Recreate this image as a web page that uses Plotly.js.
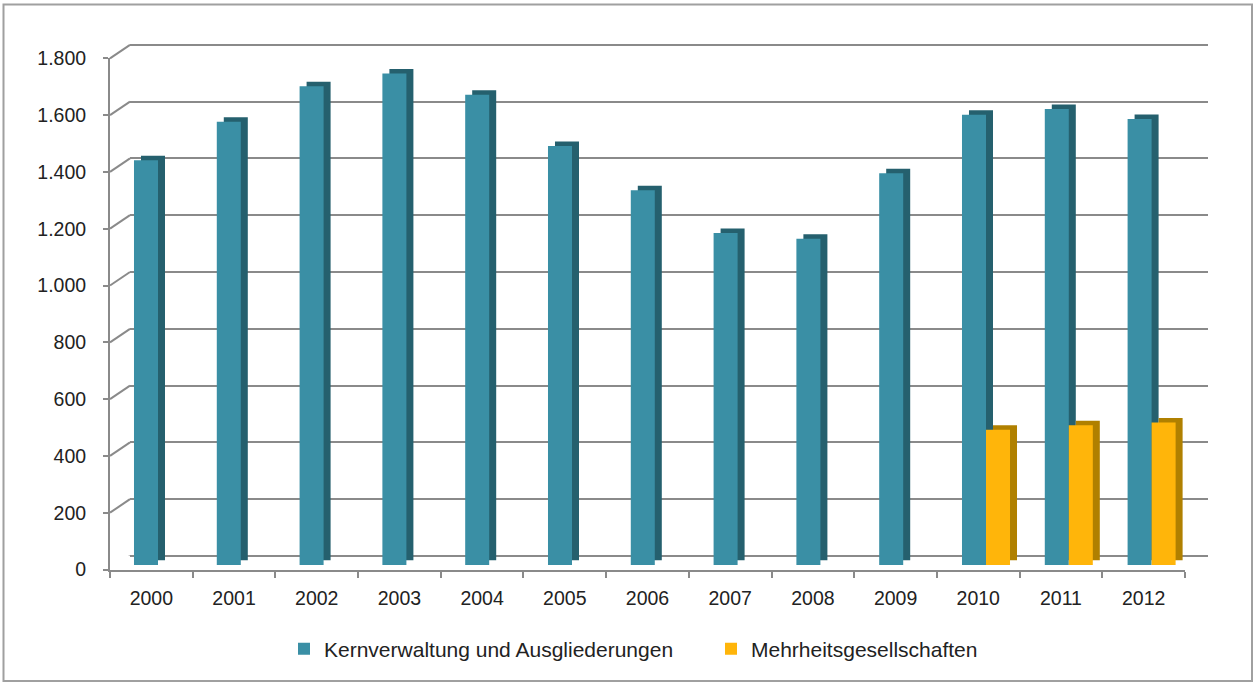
<!DOCTYPE html>
<html>
<head>
<meta charset="utf-8">
<script src="https://cdn.plot.ly/plotly-3.0.1.min.js"></script>
<style>html,body{margin:0;padding:0;background:#fff;}#chart{width:1255px;height:683px;}</style>
</head>
<body>
<div id="chart"></div>
<script>
// ---- data ----
const years = ["2000","2001","2002","2003","2004","2005","2006","2007","2008","2009","2010","2011","2012"];
const kernverwaltung = [1420,1555,1680,1725,1650,1470,1315,1165,1145,1375,1580,1600,1565];
const mehrheitsges = [null,null,null,null,null,null,null,null,null,null,475,490,500];
const yTickVals = [0,200,400,600,800,1000,1200,1400,1600,1800];
const yTickText = ["0","200","400","600","800","1.000","1.200","1.400","1.600","1.800"];
const seriesNames = ["Kernverwaltung und Ausgliederungen","Mehrheitsgesellschaften"];

// ---- styling / geometry ----
const W = 1255, H = 683;
const px = v => v / W;
const py = v => 1 - v / H;
const FONT = "Liberation Sans, Arial, sans-serif";
const TEAL = "#3a8fa5", TEAL_DARK = "#25606e";
const GOLD = "#ffb50a", GOLD_DARK = "#b08000";
const GRID = "#8a8a8a";

const traces = [
  {type:"scatter", mode:"none", x:years, y:kernverwaltung, xaxis:"x", yaxis:"y", showlegend:false, hoverinfo:"skip"},
  {type:"bar", x:years, y:kernverwaltung, xaxis:"x2", yaxis:"y2", marker:{color:TEAL_DARK}, showlegend:false, hoverinfo:"skip"},
  {type:"bar", x:years, y:mehrheitsges, xaxis:"x2", yaxis:"y2", marker:{color:GOLD_DARK}, showlegend:false, hoverinfo:"skip"},
  {type:"bar", name:seriesNames[0], x:years, y:kernverwaltung, xaxis:"x3", yaxis:"y3", marker:{color:TEAL}},
  {type:"bar", name:seriesNames[1], x:years, y:mehrheitsges, xaxis:"x3", yaxis:"y3", marker:{color:GOLD}},
  {type:"scatter", mode:"none", x:years, y:kernverwaltung, xaxis:"x4", yaxis:"y4", showlegend:false, hoverinfo:"skip"}
];

const hiddenX = (dom, anchor) => ({domain:dom, anchor:anchor, type:"category", categoryarray:years, range:[-0.5,12.5], visible:false, fixedrange:true});

const yBack0 = 556, yFront0 = 569.5, scale = 511.2; // px for 0..1800
const backTop = 1812;
const layout = {
  width:W, height:H,
  margin:{l:0,r:0,t:0,b:0},
  paper_bgcolor:"#ffffff",
  plot_bgcolor:"rgba(0,0,0,0)",
  barmode:"group", bargap:0.42, bargroupgap:0,
  showlegend:true,
  legend:{orientation:"h", x:px(284), xanchor:"left", y:py(649), yanchor:"middle",
          font:{family:FONT, size:21, color:"#222"}, itemwidth:30, entrywidth:382, entrywidthmode:"pixels", traceorder:"normal"},
  font:{family:FONT, size:19, color:"#222"},
  xaxis: hiddenX([px(130), px(1208)], "y"),
  yaxis:{domain:[py(yBack0), py(yBack0 - scale*backTop/1800)], anchor:"x", range:[0,backTop], tickvals:yTickVals,
         showticklabels:false, ticks:"", showgrid:true, gridcolor:GRID, gridwidth:2,
         zeroline:true, zerolinecolor:GRID, zerolinewidth:2, showline:false, fixedrange:true},
  xaxis2: hiddenX([px(123.6), px(1200)], "y2"),
  yaxis2:{domain:[py(565 - 4.5), py(565 - 4.5 - 513)], anchor:"x2", range:[0,1800], visible:false, fixedrange:true},
  xaxis3: hiddenX([px(116.6), px(1193)], "y3"),
  yaxis3:{domain:[py(565), py(565 - 513)], anchor:"x3", range:[0,1800], visible:false, fixedrange:true},
  xaxis4:{domain:[px(110), px(1185)], anchor:"y4", type:"category", categoryarray:years, range:[-0.5,12.5],
          showline:true, linecolor:GRID, linewidth:2, ticks:"outside", tickson:"boundaries", ticklen:6,
          tickcolor:GRID, tickwidth:2, showgrid:false, zeroline:false, ticklabelstandoff:10,
          tickfont:{family:FONT, size:19.5, color:"#222"}, fixedrange:true},
  yaxis4:{domain:[py(yFront0), py(yFront0 - scale)], anchor:"x4", range:[0,1800], tickvals:yTickVals, ticktext:yTickText,
          showline:true, linecolor:GRID, linewidth:2, ticks:"outside", ticklen:5, tickcolor:GRID, tickwidth:2,
          showgrid:false, zeroline:false, ticklabelstandoff:13,
          tickfont:{family:FONT, size:19.5, color:"#222"}, fixedrange:true},
  shapes:[]
};

yTickVals.forEach(v => {
  layout.shapes.push({type:"line", xref:"paper", yref:"y", ysizemode:"pixel", yanchor:v,
    x0:px(130), y0:0, x1:px(110), y1:-(yFront0 - yBack0), line:{color:GRID, width:2}, layer:"below"});
});
layout.shapes.push({type:"line", xref:"paper", yref:"y", ysizemode:"pixel", yanchor:0,
  x0:px(1208), y0:0, x1:px(1185), y1:-(yFront0 - yBack0), line:{color:GRID, width:2}, layer:"below"});
layout.shapes.push({type:"rect", xref:"paper", yref:"paper", x0:px(3.5), x1:px(1252), y0:py(681), y1:py(4.5),
  line:{color:"#a0a0a0", width:2}, fillcolor:"rgba(0,0,0,0)", layer:"below"});

Plotly.newPlot("chart", traces, layout, {displayModeBar:false, staticPlot:true});
</script>
</body>
</html>
